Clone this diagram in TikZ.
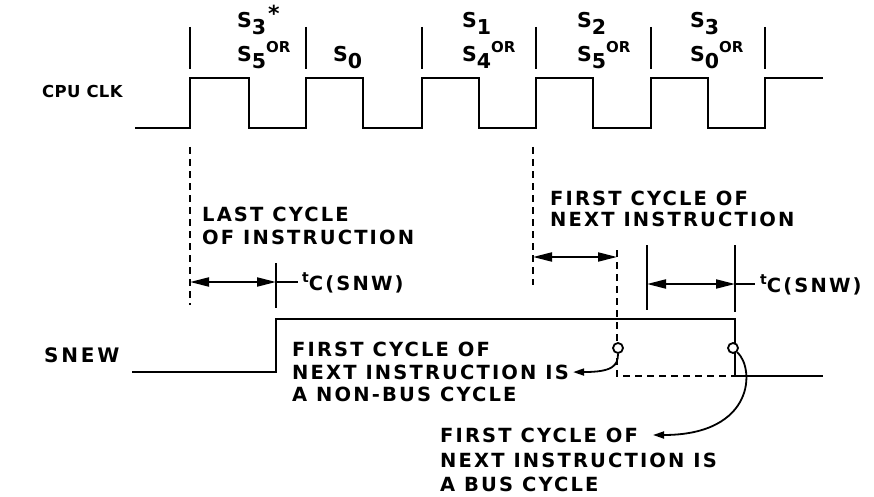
\documentclass[tikz,border=0pt]{standalone}
\usepackage{fontspec}
\newfontfamily\lettering{DejaVu Sans}[UprightFont={* Bold}, LetterSpace=11]
\newfontfamily\statefont{DejaVu Sans}[UprightFont={* Bold}]
\usetikzlibrary{arrows.meta,calc}

\newcommand{\sname}[1]{S\raisebox{-7pt}{#1}}
\newcommand{\orup}{\raisebox{9pt}{\fontsize{15}{15}\selectfont OR}}
\newcommand{\tcsnw}{{\fontsize{14}{14}\selectfont t}\raisebox{-8pt}{C(SNW)}}

\begin{document}
\begin{tikzpicture}[x=1pt, y=-1pt,
    wave/.style={line width=2.9pt, line join=miter},
    tick/.style={line width=2pt},
    guide/.style={line width=2pt, dash pattern=on 7pt off 5pt},
    dim/.style={line width=2pt, {Triangle[length=19pt,width=9pt]}-{Triangle[length=19pt,width=9pt]}},
    callout/.style={line width=1.8pt, -{Triangle[length=11pt,width=7pt]}},
    hole/.style={circle, draw, line width=1.8pt, fill=white, minimum size=10pt, inner sep=0pt},
    txt/.style={font=\lettering\fontsize{19.5}{23}\selectfont, inner sep=0pt, align=left, anchor=north west},
    state/.style={font=\statefont\fontsize{20.5}{20.5}\selectfont, inner sep=0pt, anchor=base west}]
  \useasboundingbox (0,0) rectangle (874,497);

  % clock and state ticks
  \draw[wave] (135,128) -- (190,128) -- (190,78) -- (249,78) -- (249,128) -- (306,128) -- (306,78)
    -- (363,78) -- (363,128) -- (422,128) -- (422,78) -- (479,78) -- (479,128) -- (536,128) -- (536,78)
    -- (593,78) -- (593,128) -- (651,128) -- (651,78) -- (708,78) -- (708,128) -- (765,128) -- (765,78) -- (823,78);
  \foreach \x in {190,306,422,536,651,765}
    \draw[tick] (\x,27) -- (\x,69);

  \node[state] (s35top) at (237,28) {\sname{3}\hspace{2pt}\raisebox{6pt}{\fontsize{22}{22}\selectfont *}};
  \node[state] (s35) at (237,62) {\sname{5}\orup};
  \node[state] (s0) at (333,62) {\sname{0}};
  \node[state] (s14top) at (462,28) {\sname{1}};
  \node[state] (s14) at (462,62) {\sname{4}\orup};
  \node[state] (s25top) at (577,28) {\sname{2}};
  \node[state] (s25) at (577,62) {\sname{5}\orup};
  \node[state] (s30top) at (690,28) {\sname{3}};
  \node[state] (s30) at (690,62) {\sname{0}\orup};

  \node[txt, anchor=west, font=\lettering\fontsize{16.5}{16.5}\selectfont\addfontfeature{LetterSpace=2}] (cpuclk) at (42,91) {CPU CLK};
  \node[txt, anchor=west, font=\lettering\fontsize{20}{20}\selectfont\addfontfeature{LetterSpace=14}] (snew) at (44,355) {SNEW};

  % guide lines
  \draw[guide] (190,147) -- (190,305);
  \draw[guide] (533,147) -- (533,285);
  \draw[guide] (617,250) -- (617,376) -- (735,376);
  \draw[tick] (276,263) -- (276,308);
  \draw[tick] (647,245) -- (647,310);
  \draw[tick] (735,245) -- (735,312);

  \node[txt] (lastcyc) at (202,207) {LAST CYCLE\\OF INSTRUCTION};
  \node[txt, font=\lettering\fontsize{19.5}{20.5}\selectfont] (firstcyc) at (550,191) {FIRST CYCLE OF\\NEXT INSTRUCTION};

  \coordinate (d1a) at (190,282);
  \coordinate (d1b) at (276,282);
  \coordinate (d2a) at (533,257);
  \coordinate (d2b) at (617,257);
  \coordinate (d3a) at (647,284);
  \coordinate (d3b) at (735,284);
  \draw[dim] (d1a) -- (d1b);
  \draw[dim] (d2a) -- (d2b);
  \draw[dim] (d3a) -- (d3b);
  \draw[tick] (d1b) -- (298,282);
  \draw[tick] (d3b) -- (755,284);
  \node[txt, anchor=base west] (tc1) at (302,282) {\tcsnw};
  \node[txt, anchor=base west] (tc2) at (760,284) {\tcsnw};

  % SNEW
  \draw[wave] (132,372) -- (276,372) -- (276,319) -- (735,319) -- (735,376) -- (823,376);

  \node[txt, font=\lettering\fontsize{19.5}{22.5}\selectfont] (nonbus) at (292,342) {FIRST CYCLE OF\\NEXT INSTRUCTION IS\\A NON-BUS CYCLE};
  \node[txt, font=\lettering\fontsize{19.5}{24.5}\selectfont] (bus) at (440,428) {FIRST CYCLE OF\\NEXT INSTRUCTION IS\\A BUS CYCLE};
  \coordinate (busin) at (653,435);

  \node[hole] (hole1) at (618,348) {};
  \node[hole] (hole2) at (733,348) {};
  \draw[callout] (hole1.south) .. controls (618,366) and (612,372) .. ($(nonbus.east)+(4,0)$);
  \draw[callout] (hole2.south east) .. controls (755,368) and (755,435) .. (busin);
\end{tikzpicture}
\end{document}
